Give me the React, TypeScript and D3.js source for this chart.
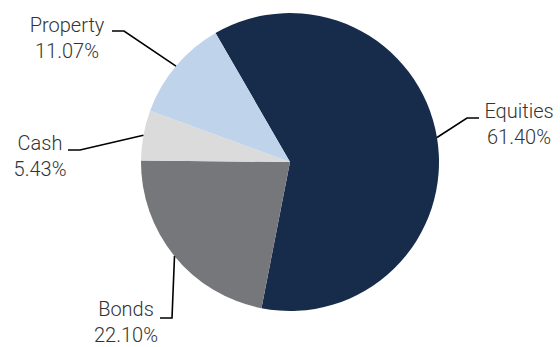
import React from "react";
import * as d3 from "d3";

const categories = ["Equities", "Bonds", "Cash", "Property"];
const values = [61.4, 22.1, 5.43, 11.07];
const valueLabels = ["61.40%", "22.10%", "5.43%", "11.07%"];
const colors = ["#172b4a", "#76777b", "#dbdbdb", "#bfd3eb"];

// layout (not data): elbow offsets relative to pie centre, label centre x & first baseline
const elbows: [number, number][] = [[177, -44], [-118, 156], [-210, -12], [-166, -131]];
const sides = [1, -1, -1, -1];
const labelCenters: [number, number][] = [[519, 118], [126, 316], [40, 150], [67, 32]];

const W = 560, H = 347;
const cx = 290, cy = 162, R = 149;

export default function App() {
  const pie = d3
    .pie<number>()
    .sort(null)
    .value((d) => d)
    .startAngle((-30 * Math.PI) / 180)
    .endAngle((330 * Math.PI) / 180);
  const arcs = pie(values);
  const arc = d3.arc<d3.PieArcDatum<number>>().innerRadius(0).outerRadius(R);
  const line = d3.line();

  return (
    <svg width={W} height={H} style={{ position: "absolute", left: 0, top: 0, fontFamily: "Roboto, sans-serif" }}>
      <g transform={`translate(${cx},${cy})`}>
        {arcs.map((a, i) => (
          <path key={categories[i]} d={arc(a) || ""} fill={colors[i]} />
        ))}
        {arcs.map((a, i) => {
          const mid = (a.startAngle + a.endAngle) / 2;
          const p0: [number, number] = [Math.sin(mid) * R, -Math.cos(mid) * R];
          const e = elbows[i];
          const p2: [number, number] = [e[0] + sides[i] * 12, e[1]];
          return (
            <path key={"l" + i} d={line([p0, e, p2]) || ""} fill="none" stroke="#000" strokeWidth={1.6} />
          );
        })}
      </g>
      {categories.map((c, i) => (
        <text
          key={"t" + i}
          x={labelCenters[i][0]}
          y={labelCenters[i][1]}
          textAnchor="middle"
          fontSize={20}
          fontWeight={300}
          fill="#333"
        >
          <tspan x={labelCenters[i][0]}>{c}</tspan>
          <tspan x={labelCenters[i][0]} dy={26}>{valueLabels[i]}</tspan>
        </text>
      ))}
    </svg>
  );
}
